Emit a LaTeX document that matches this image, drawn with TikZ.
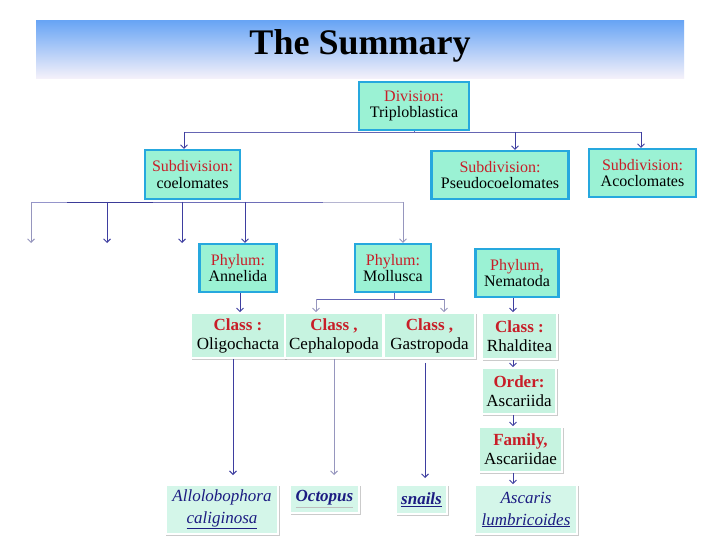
\documentclass[tikz,border=0pt]{standalone}
\usepackage{fontspec}
\setmainfont{Liberation Serif}
\usetikzlibrary{arrows.meta,shadows}
\definecolor{topf}{RGB}{155,242,212}
\definecolor{topb}{RGB}{38,168,222}
\definecolor{clsf}{RGB}{198,243,224}
\definecolor{botf}{RGB}{212,246,233}
\definecolor{labred}{RGB}{200,30,40}
\definecolor{navy}{RGB}{28,28,130}
\definecolor{arrc}{RGB}{62,62,160}
\definecolor{arrl}{RGB}{150,150,190}
\definecolor{bandtop}{RGB}{105,165,245}
\definecolor{bandmid}{RGB}{150,195,246}
\definecolor{bandbot}{RGB}{246,242,250}
\newcommand\redlab[1]{\textcolor{labred}{#1}}
\newcommand\redbf[1]{\textcolor{labred}{\bfseries #1}}
\begin{document}
\begin{tikzpicture}[x=1pt,y=-1pt,
  arr/.style={draw=arrc, line width=0.9pt, -{Straight Barb[length=3.5pt,width=7pt]}},
  arrlight/.style={arr, draw=arrl},
  bus/.style={draw=arrc!80, line width=0.9pt},
  topbox/.style={draw=topb, line width=2.2pt, fill=topf, inner sep=0pt, align=center,
    font=\fontsize{16}{16.5}\selectfont},
  clsbox/.style={draw=white, line width=1.6pt, fill=clsf, inner sep=0pt, align=center,
    font=\fontsize{17}{19}\selectfont,
    general shadow={fill=black!45, opacity=0.45, shadow xshift=1.2pt, shadow yshift=-1.6pt, shadow scale=1.015}},
  botbox/.style={clsbox, fill=botf, font=\fontsize{17}{22}\selectfont\itshape, text=navy},
  sz/.style 2 args={minimum width=#1pt, minimum height=#2pt}
]
\useasboundingbox (0,0) rectangle (720,540);
\fill[white] (0,0) rectangle (720,540);

% title band
\node[sz={648}{58}, inner sep=0pt, top color=bandtop, middle color=bandmid, bottom color=bandbot] (band) at (360,50) {};
\node[font=\fontsize{36}{36}\selectfont\bfseries] (title) at (360,46) {The Summary};

% top level boxes
\node[topbox, sz={110}{48}] (div) at (414,106) {\redlab{Division:}\\Triploblastica};
\node[topbox, sz={95}{49}] (sub1) at (192.5,174.5) {\redlab{Subdivision:}\\coelomates};
\node[topbox, sz={137}{48}] (sub2) at (500,175) {\redlab{Subdivision:}\\Pseudocoelomates};
\node[topbox, sz={107}{48}] (sub3) at (642.5,173) {\redlab{Subdivision:}\\Acoclomates};
\node[topbox, sz={77}{48}] (phyA) at (238,268) {\redlab{Phylum:}\\Annelida};
\node[topbox, sz={76}{48}] (phyM) at (393,268) {\redlab{Phylum:}\\Mollusca};
\node[topbox, sz={83}{48}] (phyN) at (517,273) {\redlab{Phylum,}\\Nematoda};

% class / order / family
\node[clsbox, sz={94}{45}] (clsO) at (238,335.5) {\redbf{Class :}\\Oligochacta};
\node[clsbox, sz={98}{45}] (clsC) at (334,335.5) {\redbf{Class ,}\\Cephalopoda};
\node[clsbox, sz={91}{45}] (clsG) at (429.5,335.5) {\redbf{Class ,}\\Gastropoda};
\node[clsbox, sz={75}{46}] (clsR) at (519.5,336) {\redbf{Class :}\\Rhalditea};
\node[clsbox, sz={74}{46}] (ord) at (519,391) {\redbf{Order:}\\Ascariida};
\node[clsbox, sz={83}{45}] (fam) at (520.5,449.5) {\redbf{Family,}\\Ascariidae};

% species
\node[botbox, sz={112}{49}] (allo) at (222,509.5) {Allolobophora\\\textcolor{navy}{\underline{caliginosa}}};
\node[botbox, sz={69}{28}] (oct) at (324.5,499) {\textcolor{black!25}{\underline{\textcolor{navy}{\bfseries Octopus}}}};
\node[botbox, sz={51}{29}] (snl) at (421.5,499.5) {\textcolor{navy}{\underline{\bfseries snails}}};
\node[botbox, sz={102}{49}] (asc) at (526,509.5) {Ascaris\\\textcolor{navy}{\underline{lumbricoides}}};

% division -> subdivisions
\coordinate (h0) at (414,132);
\coordinate (t1) at (184,132);
\coordinate (t2) at (515,132);
\coordinate (t3) at (641,132);
\draw[bus] (div.south) -- (h0);
\draw[bus] (t1) -- (t3);
\draw[arr] (t1) -- (t1 |- sub1.north);
\draw[arr] (t2) -- (t2 |- sub2.north);
\draw[arr] (t3) -- (t3 |- sub3.north);

% coelomates -> phyla
\coordinate (p1) at (31,202);
\coordinate (pa) at (67,202);
\coordinate (pb) at (153,202);
\coordinate (pc) at (323,202);
\coordinate (p5) at (403,202);
\coordinate (p2) at (107,202);
\coordinate (p3) at (182,202);
\coordinate (p4) at (245,202);
\coordinate (e1) at (31,243);
\coordinate (e2) at (107,243);
\coordinate (e3) at (182,243);
\draw[draw=arrc!55, line width=0.9pt] (p1) -- (pa);
\draw[draw=arrc!95!black, line width=0.9pt] (pa) -- (pb);
\draw[draw=arrc!75, line width=0.9pt] (pb) -- (pc);
\draw[draw=arrl!70, line width=0.9pt] (pc) -- (p5);
\draw[arrlight] (p1) -- (e1);
\draw[arr] (p2) -- (e2);
\draw[arr] (p3) -- (e3);
\draw[arr] (p4) -- (p4 |- phyA.north);
\draw[arrlight] (p5) -- (p5 |- phyM.north);

% phyla -> classes
\coordinate (a1) at (240,300);
\draw[arr] (a1 |- phyA.south) -- (a1 |- clsO.north);
\coordinate (m0) at (394,299);
\coordinate (m1) at (316,299);
\coordinate (m2) at (444,299);
\draw[bus] (m0 |- phyM.south) -- (m0);
\draw[bus] (m1) -- (m2);
\draw[arrlight] (m1) -- (m1 |- clsC.north);
\draw[arrlight] (m2) -- (m2 |- clsG.north);
\coordinate (n1) at (513,300);
\draw[arr] (n1 |- phyN.south) -- (n1 |- clsR.north);
\draw[arr] (n1 |- clsR.south) -- (n1 |- ord.north);
\draw[arr] (n1 |- ord.south) -- (n1 |- fam.north);
\draw[arr] (n1 |- fam.south) -- (n1 |- asc.north);

% classes -> species
\coordinate (o1) at (233,475);
\coordinate (o2) at (334,475);
\coordinate (o3) at (425,478);
\draw[arr] (o1 |- clsO.south) -- (o1);
\draw[arrlight] (o2 |- clsC.south) -- (o2);
\draw[arr] ([yshift=-4pt]o3 |- clsG.south) -- (o3);
\end{tikzpicture}
\end{document}
